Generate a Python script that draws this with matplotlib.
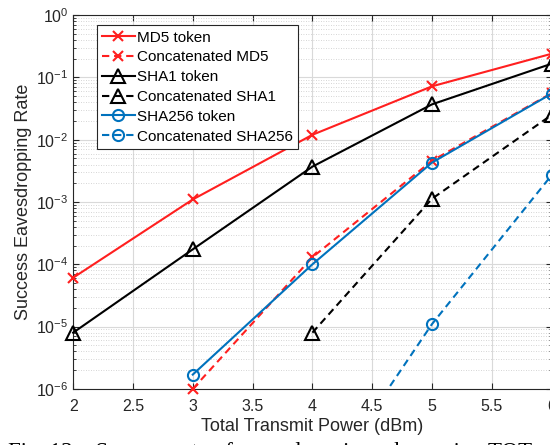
import matplotlib.pyplot as plt
import numpy as np
from matplotlib.ticker import FormatStrFormatter, LogLocator, MultipleLocator, NullFormatter

plt.rcParams["font.family"] = ["Liberation Sans", "DejaVu Sans"]
plt.rcParams["mathtext.fontset"] = "custom"
plt.rcParams["mathtext.rm"] = "Liberation Sans"

# values
power_dbm = [2, 3, 4, 5, 6]
md5_token = [6.1e-5, 1.1e-3, 1.2e-2, 7.2e-2, 0.24]
concat_md5 = [np.nan, 1.0e-6, 1.3e-4, 4.6e-3, 0.056]
sha1_token = [8.0e-6, 1.74e-4, 3.7e-3, 3.7e-2, 0.166]
concat_sha1 = [np.nan, np.nan, 8.0e-6, 1.13e-3, 0.025]
sha256_token = [np.nan, 1.7e-6, 1.0e-4, 4.3e-3, 0.055]
concat_sha256 = [np.nan, np.nan, 1.6e-8, 1.1e-5, 2.7e-3]

RED = "#ff1f1f"
BLUE = "#0072bd"
DASH = (3.5, 2.3)


def main() -> None:
    fig = plt.figure(figsize=(5.5, 4.45), dpi=100)
    ax = fig.add_axes((0.133, 0.126, 0.87, 0.840))

    lw = 1.5
    ax.plot(power_dbm, md5_token, "-", color=RED, lw=lw, marker="x", ms=7,
            mew=1.5, label="MD5 token", clip_on=False, zorder=3)
    ax.plot(power_dbm, concat_md5, "--", color=RED, lw=lw, marker="x", ms=7,
            mew=1.5, dashes=DASH, label="Concatenated MD5", clip_on=False, zorder=3)
    ax.plot(power_dbm, sha1_token, "-", color="black", lw=lw, marker="^", ms=9.5,
            mew=1.5, mfc="none", label="SHA1 token", clip_on=False, zorder=3)
    ax.plot(power_dbm, concat_sha1, "--", color="black", lw=lw, marker="^", ms=9.5,
            mew=1.5, mfc="none", dashes=DASH, label="Concatenated SHA1",
            clip_on=False, zorder=3)
    ax.plot(power_dbm, sha256_token, "-", color=BLUE, lw=lw, marker="o", ms=8,
            mew=1.5, mfc="none", label="SHA256 token", clip_on=False, zorder=4)
    ax.plot(power_dbm, concat_sha256, "--", color=BLUE, lw=lw, marker="o", ms=8,
            mew=1.5, mfc="none", dashes=DASH, label="Concatenated SHA256", zorder=4)

    ax.set_yscale("log")
    ax.set_xlim(2, 6)
    ax.set_ylim(1e-6, 1)
    ax.xaxis.set_major_locator(MultipleLocator(0.5))
    ax.xaxis.set_major_formatter(FormatStrFormatter("%g"))
    ax.yaxis.set_major_locator(LogLocator(base=10, numticks=10))
    ax.yaxis.set_minor_locator(LogLocator(base=10, subs=np.arange(2, 10), numticks=10))
    ax.yaxis.set_minor_formatter(NullFormatter())

    ax.grid(True, which="major", color="#d9d9d9", lw=0.8)
    ax.grid(True, which="minor", axis="y", color="#c8c8c8", lw=0.6, ls=(0, (1, 2)))
    ax.set_axisbelow(True)
    ax.tick_params(which="both", direction="in", top=True, right=True,
                   labelsize=11.5, colors="#262626", length=4)
    ax.tick_params(axis="x", pad=7)
    ax.tick_params(which="minor", length=2)
    for spine in ax.spines.values():
        spine.set_color("#262626")
        spine.set_linewidth(0.8)

    ax.set_xlabel("Total Transmit Power (dBm)", fontsize=13, color="#262626", labelpad=3)
    ax.set_ylabel("Success Eavesdropping Rate", fontsize=13, color="#262626", labelpad=3)

    leg = ax.legend(loc="upper left", bbox_to_anchor=(0.05, 0.973), fontsize=11,
                    handlelength=2.1, handletextpad=0.15, borderpad=0.35,
                    labelspacing=0.38, fancybox=False, framealpha=1,
                    edgecolor="#262626", borderaxespad=0)
    leg.get_frame().set_linewidth(0.8)

    fig.text(0.015, 0.007, "Fig. 13.   Success rate of eavesdropping when using TOT",
             family=["Liberation Serif", "DejaVu Serif"], fontsize=16.5, va="top")

    fig.savefig("out.png", dpi=100)


if __name__ == "__main__":
    main()
